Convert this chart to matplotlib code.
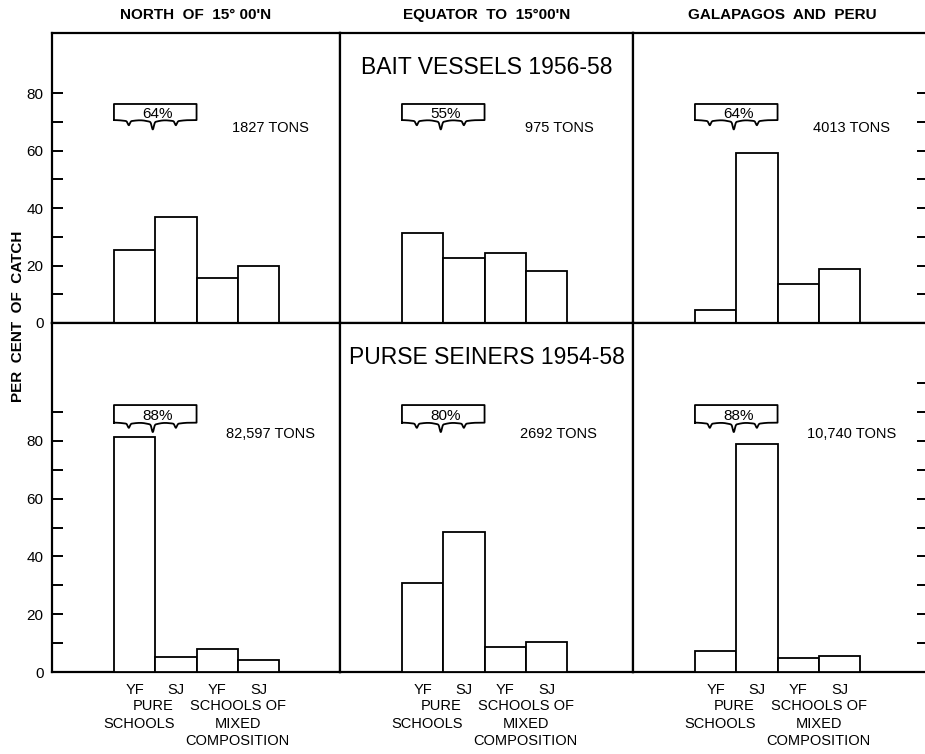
import numpy as np
import matplotlib
matplotlib.use("Agg")
import matplotlib.pyplot as plt
from matplotlib.transforms import blended_transform_factory

plt.rcParams['font.family'] = ['Liberation Sans', 'DejaVu Sans']

# data
regions = ["NORTH  OF  15° 00'N", "EQUATOR  TO  15°00'N", "GALAPAGOS  AND  PERU"]
categories = ["YF", "SJ", "YF", "SJ"]
group_pure = ["PURE", "SCHOOLS"]
group_mixed = ["SCHOOLS OF", "MIXED", "COMPOSITION"]

bait_title = "BAIT VESSELS 1956-58"
bait_values = [
    [25.5, 37.0, 15.5, 20.0],
    [31.2, 22.5, 24.2, 18.2],
    [4.5, 59.0, 13.6, 18.9],
]
bait_pure_pct = [64, 55, 64]
bait_tons = ["1827 TONS", "975 TONS", "4013 TONS"]

seine_title = "PURSE SEINERS 1954-58"
seine_values = [
    [81.4, 5.1, 7.8, 4.2],
    [30.7, 48.3, 8.8, 10.3],
    [7.4, 78.8, 4.7, 5.5],
]
seine_pure_pct = [88, 80, 88]
seine_tons = ["82,597 TONS", "2692 TONS", "10,740 TONS"]

W, H = 925, 754
col_edges = [52, 340, 633, 928]
row_edges = [33, 323, 672]
px_per_unit = 41.3
bar_start = 1.5

fig = plt.figure(figsize=(W / 100, H / 100), dpi=100)
fig.patch.set_facecolor("white")


def draw_brace(ax, x0, x1, ybot, ytop, depth):
    xs = np.linspace(x0, x1, 400)
    ys = np.full_like(xs, ybot)
    width = x1 - x0
    for frac, scale in [(0.18, 0.55), (0.47, 1.0), (0.75, 0.55)]:
        xc = x0 + frac * width
        ys -= depth * scale * np.exp(-((xs - xc) / 0.035) ** 2)
        ys -= 0.25 * depth * scale * np.exp(-((xs - xc) / 0.18) ** 2)
    px = np.concatenate([[x0, x0, x1, x1], xs[::-1]])
    py = np.concatenate([[ybot, ytop, ytop, ybot], ys[::-1]])
    ax.plot(px, py, color="black", lw=1.3, solid_joinstyle="round", clip_on=False)


rows = [
    (bait_values, bait_pure_pct, bait_tons, bait_title, 100.9, [70.6, 76.2], 67.8,
     list(range(0, 90, 10)), list(range(10, 90, 10)), 89),
    (seine_values, seine_pure_pct, seine_tons, seine_title, 120.8, [86.3, 92.4], 82.4,
     list(range(0, 100, 10)), list(range(10, 110, 10)), 109),
]

for r, (values, pcts, tons, title, ytop, box_y, tons_y, lticks, rticks, title_y) in enumerate(rows):
    y_top_px, y_bot_px = row_edges[r], row_edges[r + 1]
    for c in range(3):
        x_l, x_r = col_edges[c], col_edges[c + 1]
        ax = fig.add_axes([x_l / W, 1 - y_bot_px / H, (x_r - x_l) / W, (y_bot_px - y_top_px) / H])
        xmax = (x_r - x_l) / px_per_unit
        ax.set_xlim(0, xmax)
        ax.set_ylim(0, ytop)
        for s in ax.spines.values():
            s.set_linewidth(1.6)

        xs = [bar_start + i for i in range(len(categories))]
        ax.bar(xs, values[c], width=1.0, align="edge", facecolor="white",
               edgecolor="black", linewidth=1.3, zorder=3)

        # brace over the pure schools
        draw_brace(ax, bar_start, bar_start + 2, box_y[0], box_y[1], 2.6)
        ax.text(bar_start + 1.05, (box_y[0] + box_y[1]) / 2 - 0.6, f"{pcts[c]}%",
                ha="center", va="center", fontsize=11)
        ax.text(5.3, tons_y, tons[c], ha="center", va="center", fontsize=10.5)

        ax.tick_params(axis="y", direction="in", length=8, width=1.4, pad=6,
                       labelsize=11)
        if c == 0:
            ax.set_yticks(lticks)
            ax.set_yticklabels([str(t) if t % 20 == 0 else "" for t in lticks])
        else:
            ax.set_yticks([])
        if c == 2:
            ax2 = ax.twinx()
            ax2.set_ylim(0, ytop)
            ax2.set_yticks(rticks)
            ax2.set_yticklabels([])
            ax2.tick_params(axis="y", direction="in", length=8, width=1.4)
            for s in ax2.spines.values():
                s.set_visible(False)

        if r == 1:
            ax.set_xticks([x + 0.5 for x in xs])
            ax.set_xticklabels(categories, fontsize=10.5)
            ax.tick_params(axis="x", length=0, pad=8)
            tr = blended_transform_factory(ax.transData, ax.transAxes)
            step = 17.5 / (y_bot_px - y_top_px)
            first = -(706 - y_bot_px) / (y_bot_px - y_top_px)
            ax.text(bar_start + 0.95, first, group_pure[0], transform=tr,
                    ha="center", va="center", fontsize=10.5)
            ax.text(bar_start + 0.6, first - step, group_pure[1], transform=tr,
                    ha="center", va="center", fontsize=10.5)
            for k, line in enumerate(group_mixed):
                ax.text(bar_start + 3.0, first - k * step, line, transform=tr,
                        ha="center", va="center", fontsize=10.5)
        else:
            ax.set_xticks([])

        if c == 1:
            ax.text(xmax / 2, title_y, title, ha="center", va="center", fontsize=16.5)

# column headings
for c, name in enumerate(regions):
    xc = (col_edges[c] + col_edges[c + 1]) / 2 if c < 2 else 782
    fig.text(xc / W, 1 - 15 / H, name, ha="center", va="center", fontsize=11,
             fontweight="bold")

fig.text(18 / W, 1 - 316 / H, "PER  CENT  OF  CATCH", rotation=90, ha="center",
         va="center", fontsize=11, fontweight="bold")

fig.savefig("out.png", dpi=100, facecolor="white")
